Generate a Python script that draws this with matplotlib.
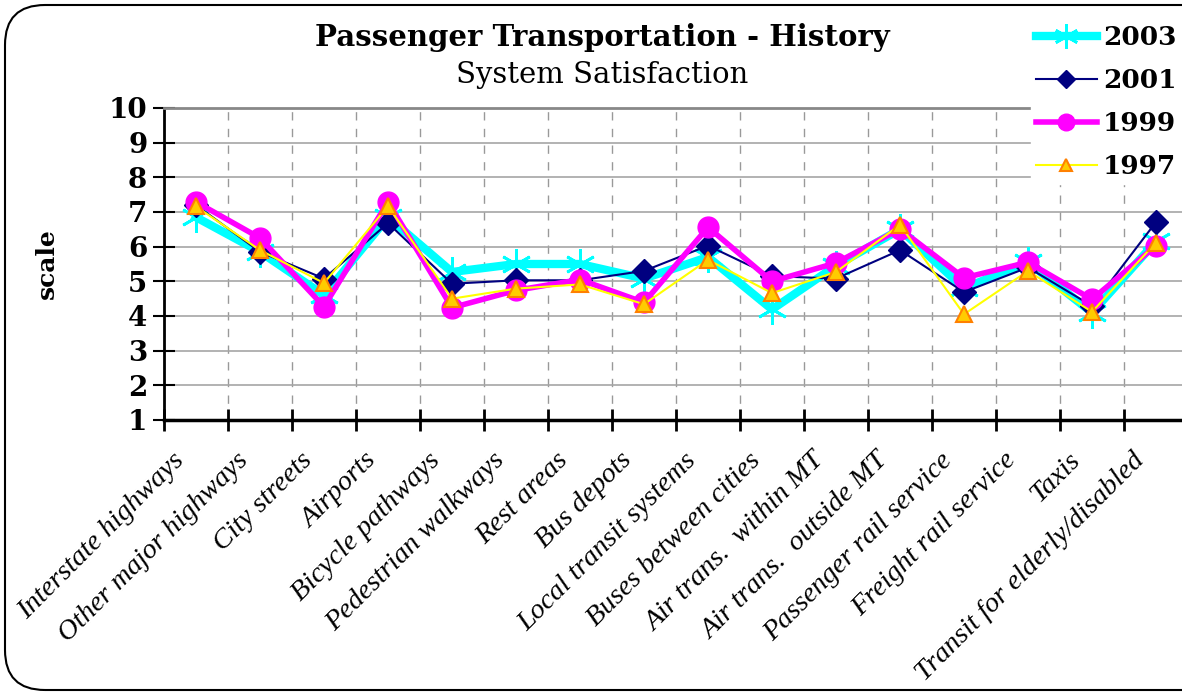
import matplotlib
matplotlib.use('Agg')
import matplotlib.pyplot as plt
from matplotlib.patches import FancyBboxPatch
from matplotlib.transforms import IdentityTransform
import numpy as np

# categories and survey scores
categories = ['Interstate highways', 'Other major highways', 'City streets', 'Airports',
              'Bicycle pathways', 'Pedestrian walkways', 'Rest areas', 'Bus depots',
              'Local transit systems', 'Buses between cities', 'Air trans.  within MT',
              'Air trans.  outside MT', 'Passenger rail service', 'Freight rail service',
              'Taxis', 'Transit for elderly/disabled']
y2003 = [6.85, 5.85, 4.6, 6.85, 5.27, 5.5, 5.5, 5.08, 5.7, 4.19, 5.45, 6.5, 4.8, 5.55, 4.1, 6.15]
y2001 = [7.2, 5.85, 5.08, 6.68, 4.93, 5.03, 5.03, 5.3, 6.03, 5.15, 5.08, 5.9, 4.69, 5.4, 4.29, 6.71]
y1999 = [7.29, 6.25, 4.27, 7.29, 4.24, 4.74, 5.05, 4.39, 6.56, 5.0, 5.53, 6.51, 5.1, 5.55, 4.48, 6.03]
y1997 = [7.16, 5.9, 4.95, 7.17, 4.5, 4.79, 4.91, 4.34, 5.62, 4.66, 5.27, 6.63, 4.05, 5.3, 4.12, 6.12]

serif = 'DejaVu Serif'

fig = plt.figure(figsize=(11.82, 6.96), dpi=100)
ax = fig.add_axes([164 / 1182, 1 - 420 / 696, 1024 / 1182, 312 / 696])

x = np.arange(len(categories)) + 0.5

ax.plot(x, y2003, color='#00FFFF', lw=6, marker=(6, 2, 0), ms=22, mew=2,
        mec='#00FFFF', label='2003', zorder=3)
ax.plot(x, y2001, color='#000080', lw=1.5, marker='D', ms=12, mfc='#000080',
        mec='#000080', label='2001', zorder=4)
ax.plot(x, y1999, color='#FF00FF', lw=4, marker='o', ms=15, mfc='#FF00FF',
        mec='#FF00FF', label='1999', zorder=5)
ax.plot(x, y1997, color='#FFFF00', lw=1.5, marker='^', ms=11, mfc='#FFCC00',
        mec='#FF8000', mew=1.5, label='1997', zorder=6)

ax.set_xlim(0, 16)
ax.set_ylim(1, 10)
ax.set_yticks(range(1, 11))
ax.set_xticks(range(0, 17))
# labels sit a bit left of the category centre, like the original
ax.set_xticks(x - 0.38, minor=True)
ax.set_xticklabels([])
ax.set_xticklabels(categories, minor=True, rotation=45, ha='right', va='top',
                   rotation_mode='anchor', family='Liberation Serif', style='italic',
                   fontsize=20.5)
ax.tick_params(axis='x', which='minor', length=0, pad=20)
ax.tick_params(axis='x', which='major', direction='inout', length=16, width=2)
ax.tick_params(axis='y', direction='inout', length=16, width=1.5, pad=4)
for lab in ax.get_yticklabels():
    lab.set_family(serif)
    lab.set_weight('bold')
    lab.set_fontsize(20)

ax.grid(axis='y', color='#a6a6a6', lw=1.2)
ax.grid(axis='x', which='major', color='#999999', lw=1, ls=(0, (6, 6)))
ax.set_axisbelow(True)
ax.spines['right'].set_visible(False)
ax.spines['top'].set_color('#888888')
ax.spines['top'].set_linewidth(2)
ax.spines['left'].set_linewidth(2)
ax.spines['bottom'].set_linewidth(2.5)

ax.set_ylabel('scale', family=serif, weight='bold', fontsize=18, labelpad=36)

fig.text(602 / 1182, 1 - 37 / 696, 'Passenger Transportation - History', ha='center',
         va='center', family=serif, weight='bold', fontsize=21)
fig.text(602 / 1182, 1 - 75 / 696, 'System Satisfaction', ha='center', va='center',
         family=serif, fontsize=21)

leg = fig.legend(loc='upper right', bbox_to_anchor=(1.0, 1 - 20 / 696), frameon=True,
                 prop={'family': serif, 'weight': 'bold', 'size': 19},
                 handlelength=2.3, handletextpad=0.25, labelspacing=0.68,
                 borderpad=0.2, borderaxespad=0, markerscale=0.8)
leg.get_frame().set_facecolor('white')
leg.get_frame().set_edgecolor('white')
leg.get_frame().set_alpha(1)

frame = FancyBboxPatch((5, 6), 1300, 685, boxstyle='round,pad=0,rounding_size=40',
                       transform=IdentityTransform(), fill=False, ec='black', lw=1.5)
fig.patches.append(frame)

fig.savefig('out.png', dpi=100)
